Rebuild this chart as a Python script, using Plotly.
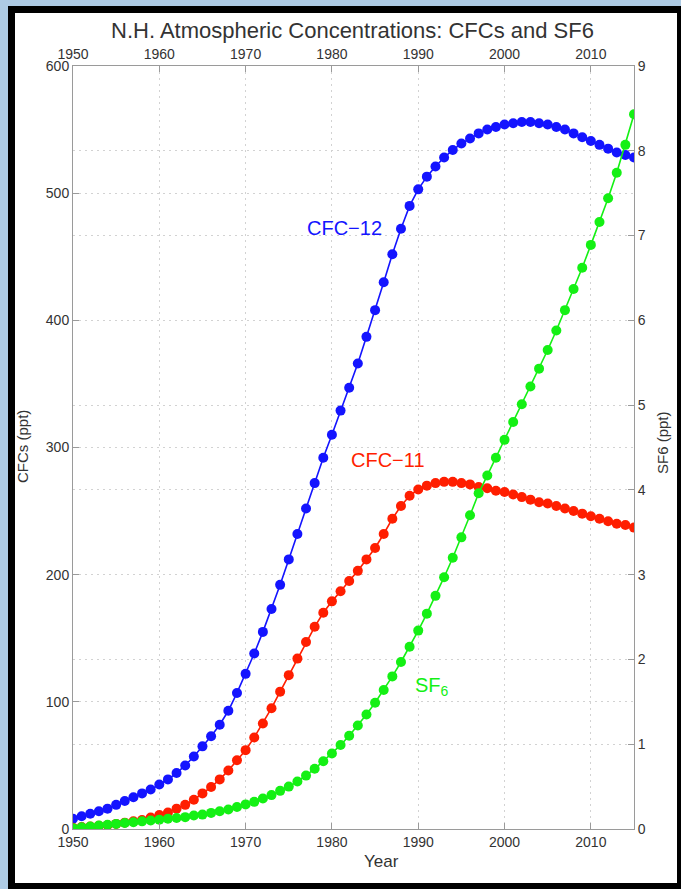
import plotly.graph_objects as go

years = list(range(1950, 2016))

cfc12 = [8, 10, 12, 14, 16, 19, 22, 25, 28, 31,
         35, 39, 44, 50, 57, 65, 73, 82, 93, 107,
         122, 138, 155, 173, 192, 212, 232, 252, 272, 292,
         310, 329, 347, 366, 387, 408, 430, 452, 472, 490,
         503, 513, 521, 528, 534, 539, 543, 547, 550, 552,
         554, 555, 556, 556, 555, 554, 552, 550, 547, 544,
         541, 538, 535, 532, 530, 528]

cfc11 = [1, 1.5, 2, 2.5, 3, 4, 5, 6, 7, 9,
         11, 13, 16, 19, 23, 28, 33, 39, 46, 54,
         62, 72, 83, 95, 108, 121, 134, 147, 159, 170,
         179, 187, 195, 203, 212, 221, 232, 244, 254, 262,
         267, 270, 272, 273, 273, 272, 271, 269, 268, 266,
         265, 263, 261, 259, 257, 256, 254, 252, 250, 248,
         246, 244, 242, 240, 239, 237]

sf6 = [0.01, 0.02, 0.03, 0.04, 0.05, 0.06, 0.07, 0.08, 0.09, 0.10,
       0.11, 0.12, 0.13, 0.14, 0.16, 0.17, 0.19, 0.21, 0.23, 0.26,
       0.29, 0.32, 0.36, 0.40, 0.45, 0.50, 0.56, 0.63, 0.71, 0.80,
       0.89, 0.99, 1.10, 1.22, 1.35, 1.49, 1.64, 1.80, 1.97, 2.15,
       2.34, 2.54, 2.75, 2.97, 3.20, 3.44, 3.70, 3.96, 4.17, 4.38,
       4.59, 4.80, 5.01, 5.22, 5.43, 5.65, 5.88, 6.12, 6.37, 6.62,
       6.89, 7.16, 7.44, 7.74, 8.07, 8.43]

x_ticks = [1950, 1960, 1970, 1980, 1990, 2000, 2010]
cfc_ticks = [0, 100, 200, 300, 400, 500, 600]
sf6_ticks = [0, 1, 2, 3, 4, 5, 6, 7, 8, 9]

W, H = 681, 889
L, R, T, B = 73, 47, 66, 60
PW, PH = W - L - R, H - T - B

def px(x):
    return (x - L) / PW

def py(y):
    return (H - B - y) / PH

FONT = "Liberation Sans, Arial, Helvetica, sans-serif"
TXT = "#333333"
GRID = "#d2d2d2"
AXL = "#9a9a9a"
BG = "#aecbe4"

BLUE = "#1414ff"
RED = "#ff1e00"
GREEN = "#14f014"

fig = go.Figure()
fig.add_trace(go.Scatter(x=years, y=cfc12, mode="lines+markers",
                         line=dict(color=BLUE, width=1.6),
                         marker=dict(color=BLUE, size=10, line=dict(width=0)),
                         name="CFC-12", showlegend=False))
fig.add_trace(go.Scatter(x=years, y=cfc11, mode="lines+markers",
                         line=dict(color=RED, width=1.6),
                         marker=dict(color=RED, size=10, line=dict(width=0)),
                         name="CFC-11", showlegend=False))
fig.add_trace(go.Scatter(x=years, y=sf6, mode="lines+markers",
                         xaxis="x2", yaxis="y2",
                         line=dict(color=GREEN, width=1.6),
                         marker=dict(color=GREEN, size=10, line=dict(width=0)),
                         name="SF6", showlegend=False))

axis_common = dict(ticks="inside", ticklen=6, tickcolor=AXL, showline=True,
                   linecolor=AXL, linewidth=1, zeroline=False,
                   tickfont=dict(family=FONT, size=14, color=TXT))
grid_common = dict(showgrid=True, gridcolor=GRID, griddash="2px,4px", gridwidth=1)


def label(text, x, y, size, color=TXT, angle=0):
    return dict(text=text, xref="paper", yref="paper", x=px(x), y=py(y),
                xanchor="center", yanchor="middle", textangle=angle,
                showarrow=False, font=dict(family=FONT, size=size, color=color))


fig.update_layout(
    width=W, height=H,
    margin=dict(l=L, r=R, t=T, b=B),
    paper_bgcolor=BG,
    plot_bgcolor="rgba(0,0,0,0)",
    font=dict(family=FONT, color=TXT),
    xaxis=dict(range=[1950, 2015], tickvals=x_ticks, **grid_common, **axis_common),
    xaxis2=dict(range=[1950, 2015], tickvals=x_ticks, overlaying="x",
                side="top", showgrid=False, anchor="y2", **axis_common),
    yaxis=dict(range=[0, 600], tickvals=cfc_ticks, **grid_common, **axis_common),
    yaxis2=dict(range=[0, 9], tickvals=sf6_ticks, overlaying="y",
                side="right", anchor="x2", **grid_common, **axis_common),
    shapes=[
        dict(type="rect", xref="paper", yref="paper", layer="below",
             x0=px(8), x1=px(700), y0=py(900), y1=py(6),
             fillcolor="#000000", line=dict(width=0)),
        dict(type="rect", xref="paper", yref="paper", layer="below",
             x0=px(15), x1=px(677), y0=py(883), y1=py(13),
             fillcolor="#ffffff", line=dict(width=0)),
    ],
    annotations=[
        label("N.H. Atmospheric Concentrations: CFCs and SF6", 352, 30, 22),
        label("Year", 381, 862, 17),
        label("CFCs (ppt)", 22, 447, 15, angle=-90),
        label("SF6 (ppt)", 662, 443, 15, angle=-90),
        label("CFC\u221212", 344, 228, 20, BLUE),
        label("CFC\u221211", 388, 460, 20, RED),
        label("SF<sub>6</sub>", 432, 686, 20, GREEN),
    ],
)

fig.write_html(
    "out.html",
    config={"displayModeBar": False},
    post_script=("document.body.style.margin='0';"
                 "document.body.style.padding='0';"
                 "document.body.style.overflow='hidden';"
                 "document.body.style.background='" + BG + "';"),
)
